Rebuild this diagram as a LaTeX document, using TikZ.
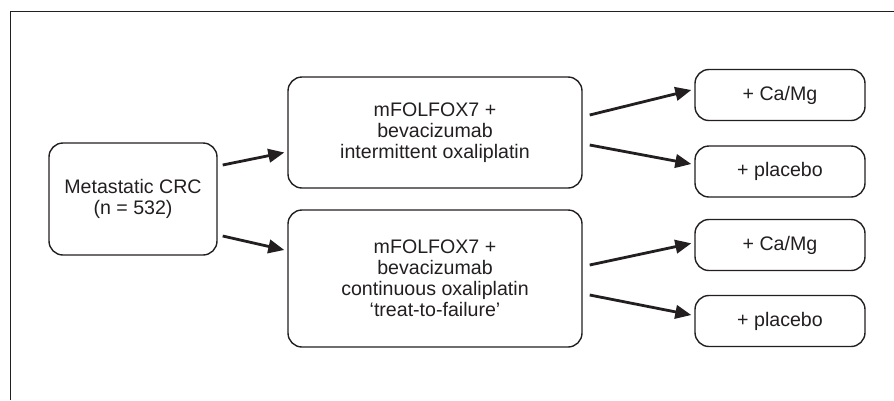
\documentclass[tikz,border=0pt]{standalone}
\usepackage{fontspec}
\setmainfont{Liberation Sans}
\usepackage{xcolor}
\usetikzlibrary{positioning,arrows.meta}
\definecolor{ink}{HTML}{231F20}
\tikzset{
  arm/.style={draw=ink, line width=1.4pt, rounded corners=14pt, align=center, text=ink, inner sep=2pt, font=\fontsize{19.6}{21}\selectfont},
}

\begin{document}
\begin{tikzpicture}[x=1pt, y=-1pt,
  box/.style={arm, minimum width=#1},
  arr/.style={-{Triangle[length=16pt, width=13.5pt]}, line width=2.8pt, ink}]
\useasboundingbox (0,0) rectangle (894,400);
\draw[ink, line width=1.5pt] (10.5,400) -- (10.5,11.5) -- (894,11.5);
\node[box=168pt, minimum height=112pt] (crc) at (133,199) {Metastatic CRC\\(n = 532)};
\node[box=294pt, minimum height=111pt] (inter) at (435,132.5) {mFOLFOX7 +\\bevacizumab\\intermittent oxaliplatin};
\node[box=294pt, minimum height=137pt] (cont) at (435,278.5) {mFOLFOX7 +\\bevacizumab\\continuous oxaliplatin\\`treat-to-failure'};
\node[box=170pt, minimum height=51pt] (camgA) at (780,95) {+ Ca/Mg};
\node[box=170pt, minimum height=51pt] (placA) at (780,171.5) {+ placebo};
\node[box=170pt, minimum height=51pt] (camgB) at (780,245) {+ Ca/Mg};
\node[box=170pt, minimum height=51pt] (placB) at (780,321) {+ placebo};
\draw[arr] ([shift={(5,-34)}]crc.east) -- ([shift={(-3,20)}]inter.west);
\draw[arr] ([shift={(5,37)}]crc.east) -- ([shift={(-3,-28.5)}]cont.west);
\draw[arr] ([shift={(7,-17.5)}]inter.east) -- ([shift={(-3,-5)}]camgA.west);
\draw[arr] ([shift={(7,12.5)}]inter.east) -- ([shift={(-3,-7.5)}]placA.west);
\draw[arr] ([shift={(7,-13.5)}]cont.east) -- ([shift={(-3,-1.7)}]camgB.west);
\draw[arr] ([shift={(7,16.5)}]cont.east) -- ([shift={(-3,-6)}]placB.west);
\end{tikzpicture}
\end{document}
